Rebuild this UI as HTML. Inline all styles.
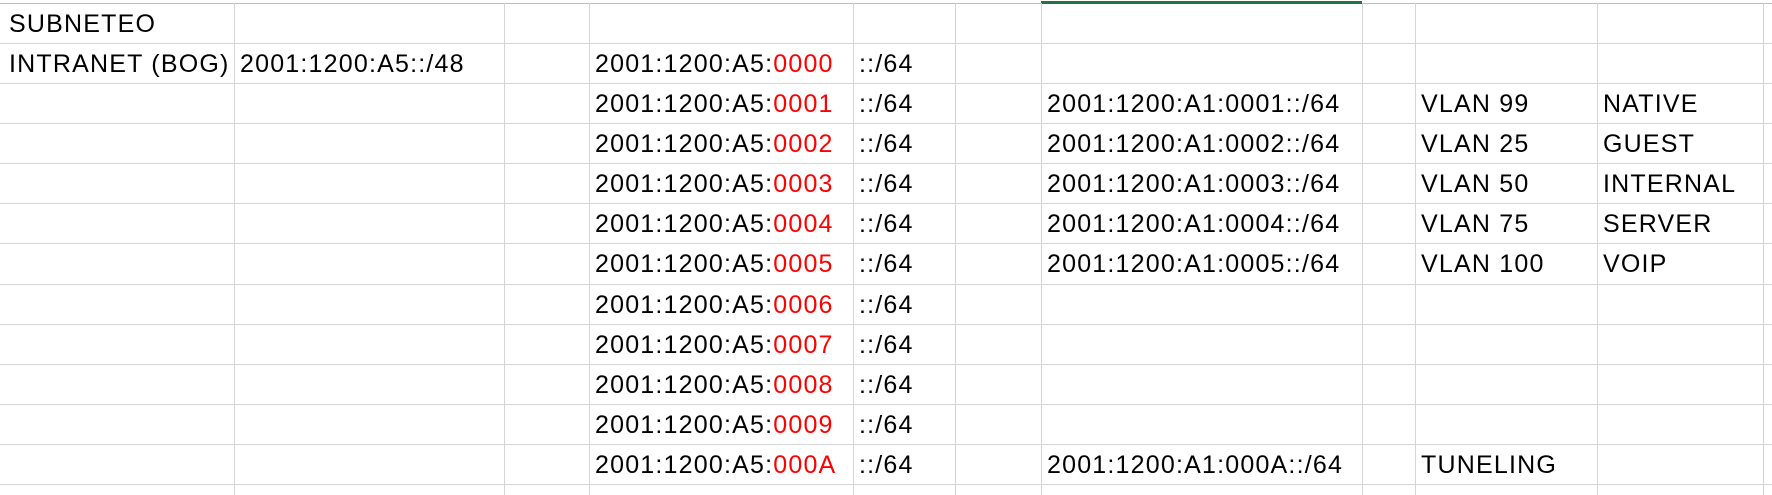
<!DOCTYPE html>
<html><head><meta charset="utf-8"><style>
html,body{margin:0;padding:0;background:#fff;width:1772px;height:495px;overflow:hidden;position:relative}
.h{position:absolute;left:0;width:1772px;height:1px;background:#d4d4d4}
.v{position:absolute;top:3px;height:492px;width:1px;background:#d4d4d4}
.c{position:absolute;height:40px;line-height:42px;font-family:"Liberation Sans",sans-serif;font-size:25px;letter-spacing:1.2px;color:#000;white-space:nowrap}
.r{color:#ff0000}
</style></head><body>
<div class="h" style="top:3px;background:#bdbdbd"></div>
<div style="position:absolute;left:1041px;top:1px;width:321px;height:3px;background:#217346"></div>
<div class="h" style="top:43px"></div>
<div class="h" style="top:83px"></div>
<div class="h" style="top:123px"></div>
<div class="h" style="top:163px"></div>
<div class="h" style="top:203px"></div>
<div class="h" style="top:243px"></div>
<div class="h" style="top:284px"></div>
<div class="h" style="top:324px"></div>
<div class="h" style="top:364px"></div>
<div class="h" style="top:404px"></div>
<div class="h" style="top:444px"></div>
<div class="h" style="top:484px"></div>
<div class="v" style="left:234px"></div>
<div class="v" style="left:504px"></div>
<div class="v" style="left:589px"></div>
<div class="v" style="left:853px"></div>
<div class="v" style="left:955px"></div>
<div class="v" style="left:1041px"></div>
<div class="v" style="left:1362px"></div>
<div class="v" style="left:1415px"></div>
<div class="v" style="left:1597px"></div>
<div class="v" style="left:1763px"></div>

<div class="c" style="left:9px;top:3px">SUBNETEO</div>
<div class="c" style="left:9px;top:43px">INTRANET (BOG)</div>
<div class="c" style="left:240px;top:43px">2001:1200:A5::/48</div>

<div class="c" style="left:595px;top:43px">2001:1200:A5:<span class="r">0000</span></div>
<div class="c" style="left:595px;top:83px">2001:1200:A5:<span class="r">0001</span></div>
<div class="c" style="left:595px;top:123px">2001:1200:A5:<span class="r">0002</span></div>
<div class="c" style="left:595px;top:163px">2001:1200:A5:<span class="r">0003</span></div>
<div class="c" style="left:595px;top:203px">2001:1200:A5:<span class="r">0004</span></div>
<div class="c" style="left:595px;top:243px">2001:1200:A5:<span class="r">0005</span></div>
<div class="c" style="left:595px;top:284px">2001:1200:A5:<span class="r">0006</span></div>
<div class="c" style="left:595px;top:324px">2001:1200:A5:<span class="r">0007</span></div>
<div class="c" style="left:595px;top:364px">2001:1200:A5:<span class="r">0008</span></div>
<div class="c" style="left:595px;top:404px">2001:1200:A5:<span class="r">0009</span></div>
<div class="c" style="left:595px;top:444px">2001:1200:A5:<span class="r">000A</span></div>

<div class="c" style="left:859px;top:43px">::/64</div>
<div class="c" style="left:859px;top:83px">::/64</div>
<div class="c" style="left:859px;top:123px">::/64</div>
<div class="c" style="left:859px;top:163px">::/64</div>
<div class="c" style="left:859px;top:203px">::/64</div>
<div class="c" style="left:859px;top:243px">::/64</div>
<div class="c" style="left:859px;top:284px">::/64</div>
<div class="c" style="left:859px;top:324px">::/64</div>
<div class="c" style="left:859px;top:364px">::/64</div>
<div class="c" style="left:859px;top:404px">::/64</div>
<div class="c" style="left:859px;top:444px">::/64</div>

<div class="c" style="left:1047px;top:83px">2001:1200:A1:0001::/64</div>
<div class="c" style="left:1047px;top:123px">2001:1200:A1:0002::/64</div>
<div class="c" style="left:1047px;top:163px">2001:1200:A1:0003::/64</div>
<div class="c" style="left:1047px;top:203px">2001:1200:A1:0004::/64</div>
<div class="c" style="left:1047px;top:243px">2001:1200:A1:0005::/64</div>
<div class="c" style="left:1047px;top:444px">2001:1200:A1:000A::/64</div>

<div class="c" style="left:1421px;top:83px">VLAN 99</div>
<div class="c" style="left:1421px;top:123px">VLAN 25</div>
<div class="c" style="left:1421px;top:163px">VLAN 50</div>
<div class="c" style="left:1421px;top:203px">VLAN 75</div>
<div class="c" style="left:1421px;top:243px">VLAN 100</div>
<div class="c" style="left:1421px;top:444px">TUNELING</div>

<div class="c" style="left:1603px;top:83px">NATIVE</div>
<div class="c" style="left:1603px;top:123px">GUEST</div>
<div class="c" style="left:1603px;top:163px">INTERNAL</div>
<div class="c" style="left:1603px;top:203px">SERVER</div>
<div class="c" style="left:1603px;top:243px">VOIP</div>
</body></html>
